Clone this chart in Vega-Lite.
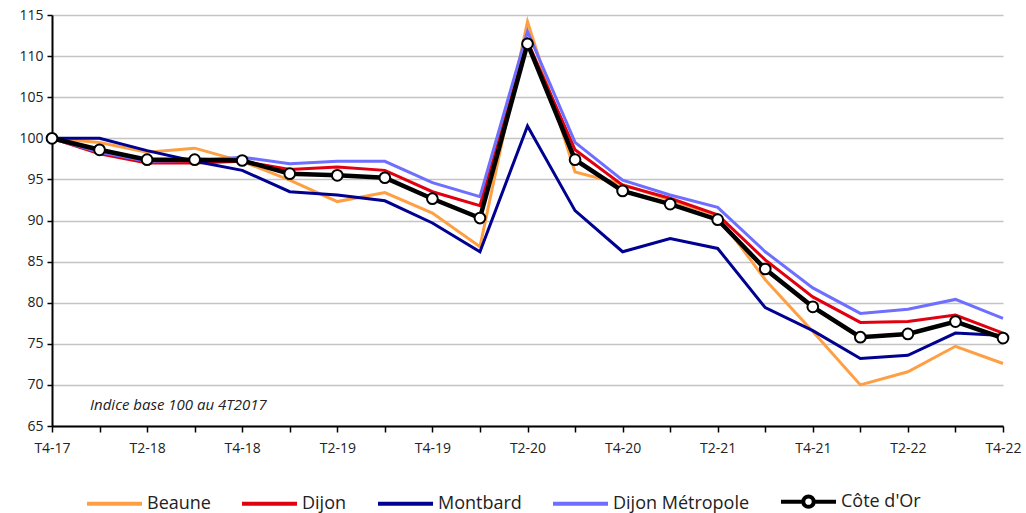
{
  "$schema": "https://vega.github.io/schema/vega-lite/v6.json",
  "autosize": "none",
  "width": 951,
  "height": 411,
  "padding": {"left": 52, "top": 15, "right": 23, "bottom": 87},
  "background": "white",
  "config": {
    "font": "Open Sans",
    "view": {"stroke": null},
    "axis": {"labelFont": "Open Sans", "labelFontSize": 14, "labelColor": "#222222", "domainColor": "#000000", "tickColor": "#000000", "domainWidth": 2, "tickWidth": 1.5, "title": null},
    "legend": {"labelFont": "Open Sans", "labelFontSize": 18, "labelColor": "#222222", "padding": 0}
  },
  "datasets": {
    "series": [
      {"q": "T4-17", "s": "Beaune", "v": 100}, {"q": "T1-18", "s": "Beaune", "v": 99.5}, {"q": "T2-18", "s": "Beaune", "v": 98.3}, {"q": "T3-18", "s": "Beaune", "v": 98.8}, {"q": "T4-18", "s": "Beaune", "v": 97.2}, {"q": "T1-19", "s": "Beaune", "v": 94.9}, {"q": "T2-19", "s": "Beaune", "v": 92.3}, {"q": "T3-19", "s": "Beaune", "v": 93.4}, {"q": "T4-19", "s": "Beaune", "v": 90.9}, {"q": "T1-20", "s": "Beaune", "v": 86.8}, {"q": "T2-20", "s": "Beaune", "v": 114.2}, {"q": "T3-20", "s": "Beaune", "v": 95.9}, {"q": "T4-20", "s": "Beaune", "v": 94.4}, {"q": "T1-21", "s": "Beaune", "v": 92.5}, {"q": "T2-21", "s": "Beaune", "v": 90.6}, {"q": "T3-21", "s": "Beaune", "v": 82.8}, {"q": "T4-21", "s": "Beaune", "v": 76.5}, {"q": "T1-22", "s": "Beaune", "v": 70.0}, {"q": "T2-22", "s": "Beaune", "v": 71.6}, {"q": "T3-22", "s": "Beaune", "v": 74.7}, {"q": "T4-22", "s": "Beaune", "v": 72.6},
      {"q": "T4-17", "s": "Dijon", "v": 100}, {"q": "T1-18", "s": "Dijon", "v": 98.1}, {"q": "T2-18", "s": "Dijon", "v": 97.0}, {"q": "T3-18", "s": "Dijon", "v": 97.0}, {"q": "T4-18", "s": "Dijon", "v": 97.2}, {"q": "T1-19", "s": "Dijon", "v": 96.2}, {"q": "T2-19", "s": "Dijon", "v": 96.5}, {"q": "T3-19", "s": "Dijon", "v": 96.1}, {"q": "T4-19", "s": "Dijon", "v": 93.5}, {"q": "T1-20", "s": "Dijon", "v": 91.8}, {"q": "T2-20", "s": "Dijon", "v": 111.8}, {"q": "T3-20", "s": "Dijon", "v": 98.6}, {"q": "T4-20", "s": "Dijon", "v": 94.3}, {"q": "T1-21", "s": "Dijon", "v": 92.7}, {"q": "T2-21", "s": "Dijon", "v": 90.7}, {"q": "T3-21", "s": "Dijon", "v": 85.2}, {"q": "T4-21", "s": "Dijon", "v": 80.7}, {"q": "T1-22", "s": "Dijon", "v": 77.6}, {"q": "T2-22", "s": "Dijon", "v": 77.7}, {"q": "T3-22", "s": "Dijon", "v": 78.5}, {"q": "T4-22", "s": "Dijon", "v": 76.3},
      {"q": "T4-17", "s": "Montbard", "v": 100}, {"q": "T1-18", "s": "Montbard", "v": 100}, {"q": "T2-18", "s": "Montbard", "v": 98.5}, {"q": "T3-18", "s": "Montbard", "v": 97.2}, {"q": "T4-18", "s": "Montbard", "v": 96.1}, {"q": "T1-19", "s": "Montbard", "v": 93.5}, {"q": "T2-19", "s": "Montbard", "v": 93.1}, {"q": "T3-19", "s": "Montbard", "v": 92.4}, {"q": "T4-19", "s": "Montbard", "v": 89.7}, {"q": "T1-20", "s": "Montbard", "v": 86.2}, {"q": "T2-20", "s": "Montbard", "v": 101.5}, {"q": "T3-20", "s": "Montbard", "v": 91.2}, {"q": "T4-20", "s": "Montbard", "v": 86.2}, {"q": "T1-21", "s": "Montbard", "v": 87.8}, {"q": "T2-21", "s": "Montbard", "v": 86.6}, {"q": "T3-21", "s": "Montbard", "v": 79.4}, {"q": "T4-21", "s": "Montbard", "v": 76.6}, {"q": "T1-22", "s": "Montbard", "v": 73.2}, {"q": "T2-22", "s": "Montbard", "v": 73.6}, {"q": "T3-22", "s": "Montbard", "v": 76.3}, {"q": "T4-22", "s": "Montbard", "v": 76.0},
      {"q": "T4-17", "s": "Dijon Métropole", "v": 100}, {"q": "T1-18", "s": "Dijon Métropole", "v": 98.3}, {"q": "T2-18", "s": "Dijon Métropole", "v": 97.2}, {"q": "T3-18", "s": "Dijon Métropole", "v": 97.3}, {"q": "T4-18", "s": "Dijon Métropole", "v": 97.7}, {"q": "T1-19", "s": "Dijon Métropole", "v": 96.9}, {"q": "T2-19", "s": "Dijon Métropole", "v": 97.2}, {"q": "T3-19", "s": "Dijon Métropole", "v": 97.2}, {"q": "T4-19", "s": "Dijon Métropole", "v": 94.6}, {"q": "T1-20", "s": "Dijon Métropole", "v": 92.9}, {"q": "T2-20", "s": "Dijon Métropole", "v": 113.0}, {"q": "T3-20", "s": "Dijon Métropole", "v": 99.5}, {"q": "T4-20", "s": "Dijon Métropole", "v": 94.9}, {"q": "T1-21", "s": "Dijon Métropole", "v": 93.1}, {"q": "T2-21", "s": "Dijon Métropole", "v": 91.6}, {"q": "T3-21", "s": "Dijon Métropole", "v": 86.2}, {"q": "T4-21", "s": "Dijon Métropole", "v": 81.8}, {"q": "T1-22", "s": "Dijon Métropole", "v": 78.7}, {"q": "T2-22", "s": "Dijon Métropole", "v": 79.2}, {"q": "T3-22", "s": "Dijon Métropole", "v": 80.4}, {"q": "T4-22", "s": "Dijon Métropole", "v": 78.1},
      {"q": "T4-17", "s": "Côte d'Or", "v": 100}, {"q": "T1-18", "s": "Côte d'Or", "v": 98.6}, {"q": "T2-18", "s": "Côte d'Or", "v": 97.4}, {"q": "T3-18", "s": "Côte d'Or", "v": 97.4}, {"q": "T4-18", "s": "Côte d'Or", "v": 97.3}, {"q": "T1-19", "s": "Côte d'Or", "v": 95.7}, {"q": "T2-19", "s": "Côte d'Or", "v": 95.5}, {"q": "T3-19", "s": "Côte d'Or", "v": 95.2}, {"q": "T4-19", "s": "Côte d'Or", "v": 92.65}, {"q": "T1-20", "s": "Côte d'Or", "v": 90.3}, {"q": "T2-20", "s": "Côte d'Or", "v": 111.5}, {"q": "T3-20", "s": "Côte d'Or", "v": 97.4}, {"q": "T4-20", "s": "Côte d'Or", "v": 93.6}, {"q": "T1-21", "s": "Côte d'Or", "v": 92.0}, {"q": "T2-21", "s": "Côte d'Or", "v": 90.1}, {"q": "T3-21", "s": "Côte d'Or", "v": 84.1}, {"q": "T4-21", "s": "Côte d'Or", "v": 79.5}, {"q": "T1-22", "s": "Côte d'Or", "v": 75.8}, {"q": "T2-22", "s": "Côte d'Or", "v": 76.2}, {"q": "T3-22", "s": "Côte d'Or", "v": 77.7}, {"q": "T4-22", "s": "Côte d'Or", "v": 75.7}
    ],
    "note": [{"q": "T4-17", "v": 67.55, "t": "Indice base 100 au 4T2017"}]
  },
  "layer": [
    {
      "data": {"name": "series"},
      "mark": {"type": "line", "strokeJoin": "miter"},
      "encoding": {
        "x": {
          "field": "q", "type": "ordinal", "sort": null,
          "scale": {"type": "point", "padding": 0},
          "axis": {"labelAngle": 0, "tickSize": 6, "labelPadding": 9, "grid": false, "labelExpr": "test(/^T[24]/, datum.label) ? datum.label : ''"}
        },
        "y": {
          "field": "v", "type": "quantitative",
          "scale": {"domain": [65, 115], "nice": false, "zero": false},
          "axis": {"values": [65, 70, 75, 80, 85, 90, 95, 100, 105, 110, 115], "tickSize": 5, "labelPadding": 4, "grid": true, "gridColor": "#c4c4c4", "gridWidth": 1.5}
        },
        "color": {
          "field": "s", "type": "nominal",
          "scale": {"domain": ["Beaune", "Dijon", "Montbard", "Dijon Métropole", "Côte d'Or"], "range": ["#ff9f43", "#e1000f", "#000091", "#6e6eff", "#000000"]},
          "legend": {
            "title": null, "orient": "none", "direction": "horizontal", "legendX": 33, "legendY": 457,
            "symbolType": "stroke", "symbolSize": 3025, "symbolStrokeWidth": 4, "columnPadding": 23, "labelOffset": 3,
            "encode": {"symbols": {"update": {
              "shape": [{"test": "datum.label === \"Côte d'Or\"", "value": "M-1,0L-0.19,0M0.19,0L1,0M-0.19,0A0.19,0.19,0,1,1,0.19,0A0.19,0.19,0,1,1,-0.19,0Z"}, {"value": "stroke"}],
              "fill": [{"test": "datum.label === \"Côte d'Or\"", "value": "white"}, {"value": "transparent"}]
            }}}
          }
        },
        "strokeWidth": {"condition": {"test": "datum.s === \"Côte d'Or\"", "value": 4.5}, "value": 3}
      }
    },
    {
      "data": {"name": "series"},
      "transform": [{"filter": "datum.s === \"Côte d'Or\""}],
      "mark": {"type": "point", "shape": "circle", "filled": true, "fill": "white", "stroke": "black", "strokeWidth": 2, "size": 115, "opacity": 1},
      "encoding": {
        "x": {"field": "q", "type": "ordinal", "sort": null},
        "y": {"field": "v", "type": "quantitative"}
      }
    },
    {
      "data": {"name": "note"},
      "mark": {"type": "text", "align": "left", "baseline": "middle", "dx": 38, "fontStyle": "italic", "fontSize": 15, "color": "#222222"},
      "encoding": {
        "x": {"field": "q", "type": "ordinal", "sort": null},
        "y": {"field": "v", "type": "quantitative"},
        "text": {"field": "t"}
      }
    }
  ]
}
